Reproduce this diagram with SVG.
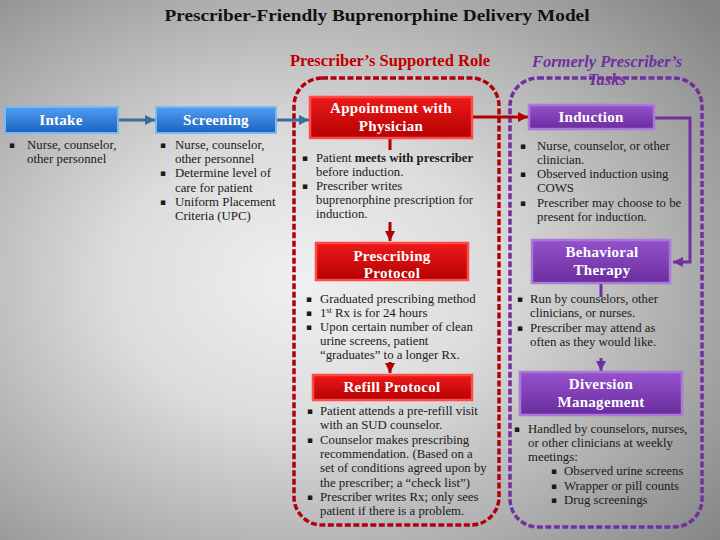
<svg xmlns="http://www.w3.org/2000/svg" width="720" height="540" viewBox="0 0 720 540">
<defs>
<radialGradient id="bg" cx="0.42" cy="0.52" r="0.75">
<stop offset="0" stop-color="#f0f0f0"/>
<stop offset="0.35" stop-color="#dcdcdc"/>
<stop offset="0.75" stop-color="#a8a8a8"/>
<stop offset="1" stop-color="#858585"/>
</radialGradient>
<linearGradient id="gBlue" x1="0" y1="0" x2="0" y2="1">
<stop offset="0" stop-color="#4f9ff0"/>
<stop offset="1" stop-color="#1c62c0"/>
</linearGradient>
<linearGradient id="gRed" x1="0" y1="0" x2="0" y2="1">
<stop offset="0" stop-color="#ee1a1a"/>
<stop offset="1" stop-color="#b40000"/>
</linearGradient>
<linearGradient id="gPurple" x1="0" y1="0" x2="0" y2="1">
<stop offset="0" stop-color="#9552cc"/>
<stop offset="1" stop-color="#6a2c9e"/>
</linearGradient>
<marker id="aBlue" markerUnits="userSpaceOnUse" markerWidth="12" markerHeight="12" refX="10" refY="6" orient="auto"><path d="M0,1 L10,6 L0,11 Z" fill="#3f6a9c"/></marker>
<marker id="aRed" markerUnits="userSpaceOnUse" markerWidth="12" markerHeight="12" refX="10" refY="6" orient="auto"><path d="M0,1 L10,6 L0,11 Z" fill="#b00000"/></marker>
<marker id="aPurple" markerUnits="userSpaceOnUse" markerWidth="12" markerHeight="12" refX="10" refY="6" orient="auto"><path d="M0,1 L10,6 L0,11 Z" fill="#7030a0"/></marker>
</defs>
<style>
.title{font-family:"Liberation Serif",serif;font-weight:bold;font-size:17px;fill:#111}
.hdr{font-family:"Liberation Serif",serif;font-weight:bold;font-size:16.5px}
.lbl{font-family:"Liberation Serif",serif;font-weight:bold;font-size:15px;fill:#fff;text-anchor:middle;letter-spacing:0.3px}
.body{font-family:"Liberation Serif",serif;font-size:12.8px;fill:#1a1a1a}
.bul{font-family:"DejaVu Sans",sans-serif;font-size:9px;fill:#1a1a1a}
.blue{fill:url(#gBlue);stroke:#7ab8f5;stroke-width:2}
.red{fill:url(#gRed);stroke:#ff4a4a;stroke-width:2.5}
.purple{fill:url(#gPurple);stroke:#a87ad6;stroke-width:2.5}
.dash{fill:none;stroke-width:3.5;stroke-dasharray:6 2.5}
</style>
<rect width="720" height="540" fill="url(#bg)"/>
<text class="title" x="377" y="21" text-anchor="middle" textLength="425" lengthAdjust="spacingAndGlyphs">Prescriber-Friendly Buprenorphine Delivery Model</text>
<text class="hdr" x="390" y="66" text-anchor="middle" fill="#c00000">Prescriber’s Supported Role</text>
<g id="groups">
<rect class="dash" x="294" y="78" width="205" height="447" rx="28" stroke="#b00010"/>
<rect class="dash" x="510" y="78" width="192" height="449" rx="28" stroke="#7030a0"/>
</g>
<text class="hdr" x="607" y="67" text-anchor="middle" fill="#7030a0" font-style="italic">Formerly Prescriber’s</text>
<text class="hdr" x="607" y="85" text-anchor="middle" fill="#7030a0" font-style="italic">Tasks</text>
<g id="connectors" fill="none" stroke-width="3">
<line x1="118" y1="120" x2="155" y2="120" stroke="#3f6a9c" marker-end="url(#aBlue)"/>
<line x1="276" y1="120" x2="309" y2="120" stroke="#3f6a9c" marker-end="url(#aBlue)"/>
<line x1="472" y1="117" x2="528" y2="117" stroke="#b00000" marker-end="url(#aRed)"/>
<line x1="390" y1="138" x2="390" y2="150" stroke="#b00000"/>
<line x1="390" y1="222" x2="390" y2="241" stroke="#b00000" marker-end="url(#aRed)"/>
<line x1="390" y1="362" x2="390" y2="373" stroke="#b00000" marker-end="url(#aRed)"/>
<polyline points="654,118 690,118 690,262 673,262" stroke="#7030a0" marker-end="url(#aPurple)"/>
<line x1="601" y1="283" x2="601" y2="297" stroke="#7030a0"/>
<line x1="601" y1="358" x2="601" y2="371" stroke="#7030a0" marker-end="url(#aPurple)"/>
</g>
<g id="intake">
<rect class="blue" x="5" y="107" width="113" height="26"/>
<text class="lbl" x="61" y="125">Intake</text>
<text class="bul" x="9" y="148">▪</text>
<text class="body"><tspan x="27" y="149">Nurse, counselor,</tspan><tspan x="27" y="163">other personnel</tspan></text>
</g>
<g id="screening">
<rect class="blue" x="156" y="107" width="120" height="26"/>
<text class="lbl" x="216" y="125">Screening</text>
<text class="bul" x="160" y="148">▪</text>
<text class="bul" x="160" y="176">▪</text>
<text class="bul" x="160" y="205">▪</text>
<text class="body"><tspan x="175" y="149">Nurse, counselor,</tspan><tspan x="175" y="163">other personnel</tspan><tspan x="175" y="177">Determine level of</tspan><tspan x="175" y="192">care for patient</tspan><tspan x="175" y="206">Uniform Placement</tspan><tspan x="175" y="220">Criteria (UPC)</tspan></text>
</g>
<g id="appointment">
<rect class="red" x="310" y="97" width="162" height="41"/>
<text class="lbl" x="391" y="113">Appointment with</text>
<text class="lbl" x="391" y="131">Physician</text>
<text class="bul" x="302" y="161">▪</text>
<text class="bul" x="302" y="189">▪</text>
<text class="body"><tspan x="316" y="162">Patient <tspan font-weight="bold">meets with prescriber</tspan></tspan><tspan x="316" y="176">before induction.</tspan><tspan x="316" y="190">Prescriber writes</tspan><tspan x="316" y="204">buprenorphine prescription for</tspan><tspan x="316" y="218">induction.</tspan></text>
</g>
<g id="prescribing">
<rect class="red" x="316" y="243" width="152" height="37"/>
<text class="lbl" x="392" y="261">Prescribing</text>
<text class="lbl" x="392" y="278">Protocol</text>
<text class="bul" x="306" y="302">▪</text>
<text class="bul" x="306" y="316">▪</text>
<text class="bul" x="306" y="330">▪</text>
<text class="body"><tspan x="320" y="303">Graduated prescribing method</tspan><tspan x="320" y="317">1<tspan font-size="8" dy="-4">st</tspan><tspan dy="4"> Rx is for 24 hours</tspan></tspan><tspan x="320" y="331">Upon certain number of clean</tspan><tspan x="320" y="345">urine screens, patient</tspan><tspan x="320" y="359">“graduates” to a longer Rx.</tspan></text>
</g>
<g id="refill">
<rect class="red" x="313" y="375" width="159" height="25"/>
<text class="lbl" x="392" y="392">Refill Protocol</text>
<text class="bul" x="307" y="414">▪</text>
<text class="bul" x="307" y="443">▪</text>
<text class="bul" x="307" y="500">▪</text>
<text class="body"><tspan x="320" y="415">Patient attends a pre-refill visit</tspan><tspan x="320" y="429">with an SUD counselor.</tspan><tspan x="320" y="444">Counselor makes prescribing</tspan><tspan x="320" y="458">recommendation. (Based on a</tspan><tspan x="320" y="472">set of conditions agreed upon by</tspan><tspan x="320" y="487">the prescriber; a “check list”)</tspan><tspan x="320" y="501">Prescriber writes Rx; only sees</tspan><tspan x="320" y="515">patient if there is a problem.</tspan></text>
</g>
<g id="induction">
<rect class="purple" x="529" y="105" width="125" height="24"/>
<text class="lbl" x="591" y="122">Induction</text>
<text class="bul" x="520" y="149">▪</text>
<text class="bul" x="520" y="177">▪</text>
<text class="bul" x="520" y="206">▪</text>
<text class="body"><tspan x="537" y="150">Nurse, counselor, or other</tspan><tspan x="537" y="164">clinician.</tspan><tspan x="537" y="178">Observed induction using</tspan><tspan x="537" y="192">COWS</tspan><tspan x="537" y="207">Prescriber may choose to be</tspan><tspan x="537" y="221">present for induction.</tspan></text>
</g>
<g id="behavioral">
<rect class="purple" x="532" y="240" width="138" height="43"/>
<text class="lbl" x="602" y="257">Behavioral</text>
<text class="lbl" x="602" y="275">Therapy</text>
<text class="bul" x="517" y="302">▪</text>
<text class="bul" x="517" y="331">▪</text>
<text class="body"><tspan x="530" y="303">Run by counselors, other</tspan><tspan x="530" y="317">clinicians, or nurses.</tspan><tspan x="530" y="332">Prescriber may attend as</tspan><tspan x="530" y="346">often as they would like.</tspan></text>
</g>
<g id="diversion">
<rect class="purple" x="520" y="372" width="162" height="43"/>
<text class="lbl" x="601" y="389">Diversion</text>
<text class="lbl" x="601" y="407">Management</text>
<text class="bul" x="514" y="432">▪</text>
<text class="body"><tspan x="528" y="433">Handled by counselors, nurses,</tspan><tspan x="528" y="447">or other clinicians at weekly</tspan><tspan x="528" y="461">meetings:</tspan></text>
<text class="bul" x="551" y="474">▪</text>
<text class="bul" x="551" y="489">▪</text>
<text class="bul" x="551" y="503">▪</text>
<text class="body"><tspan x="564" y="475">Observed urine screens</tspan><tspan x="564" y="490">Wrapper or pill counts</tspan><tspan x="564" y="504">Drug screenings</tspan></text>
</g>
</svg>
